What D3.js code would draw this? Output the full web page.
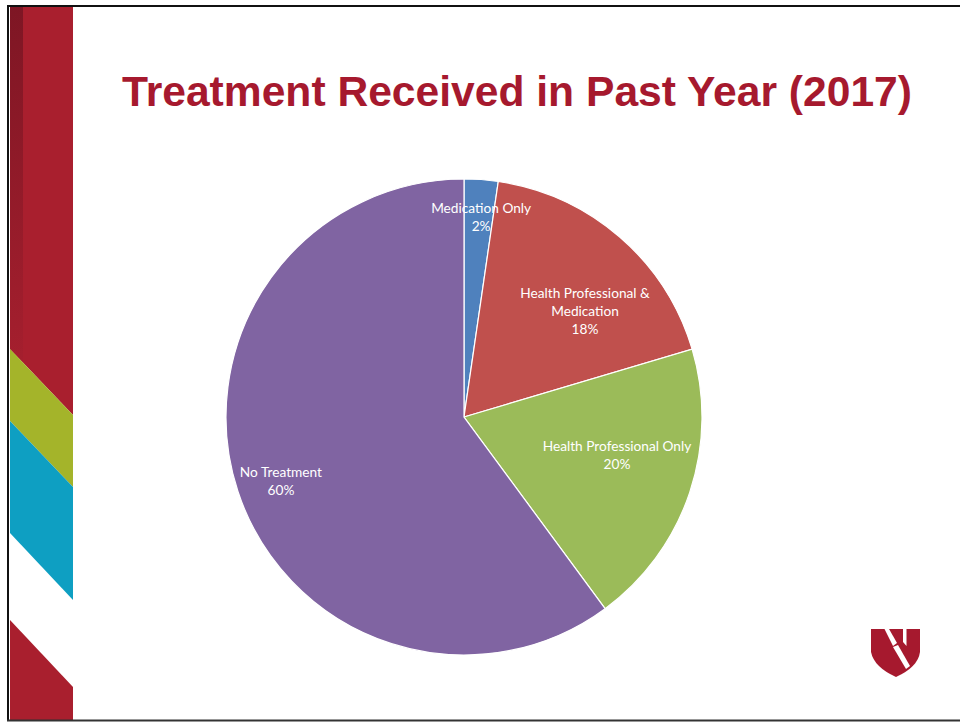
<!DOCTYPE html>
<html>
<head>
<meta charset="utf-8">
<script src="https://cdn.jsdelivr.net/npm/d3@7"></script>
<style>
html,body{margin:0;padding:0;background:#fff;}
svg{display:block;}
</style>
</head>
<body>
<script>
const titleText = "Treatment Received in Past Year (2017)";
const categories = ["Medication Only", "Health Professional & Medication", "Health Professional Only", "No Treatment"];
const labelLines = [["Medication Only"], ["Health Professional &", "Medication"], ["Health Professional Only"], ["No Treatment"]];
const values = [2.3, 18.1, 19.5, 60.1];
const percentLabels = ["2%", "18%", "20%", "60%"];
const colors = ["#4F81BD", "#C0504D", "#9BBB59", "#8064A2"];

const W = 960, H = 723;
const svg = d3.select("body").append("svg").attr("width", W).attr("height", H);

svg.append("rect").attr("x", 0).attr("y", 0).attr("width", W).attr("height", H).attr("fill", "#fff");

// left decorative strip
const defs = svg.append("defs");
const g1 = defs.append("linearGradient").attr("id", "dark").attr("x1", 0).attr("y1", 0).attr("x2", 0).attr("y2", 1);
g1.append("stop").attr("offset", "0%").attr("stop-color", "#7E1624");
g1.append("stop").attr("offset", "100%").attr("stop-color", "#A51F2E");

const strip = svg.append("g");
strip.append("polygon").attr("points", "10,6 73,6 73,415 10,349").attr("fill", "#A91F2E");
strip.append("polygon").attr("points", "10,6 23,6 23,362 10,349").attr("fill", "url(#dark)");
strip.append("polygon").attr("points", "10,349 73,415 73,487 10,421").attr("fill", "#A4B42A");
strip.append("polygon").attr("points", "10,421 73,487 73,600 10,533").attr("fill", "#0E9FC2");
strip.append("polygon").attr("points", "10,620 73,687 73,720 10,720").attr("fill", "#A91F2E");

// border lines
svg.append("line").attr("x1", 7).attr("x2", W).attr("y1", 6).attr("y2", 6).attr("stroke", "#111").attr("stroke-width", 2);
svg.append("line").attr("x1", 8).attr("x2", 8).attr("y1", 5).attr("y2", 721).attr("stroke", "#111").attr("stroke-width", 2);
svg.append("line").attr("x1", 7).attr("x2", W).attr("y1", 720.5).attr("y2", 720.5).attr("stroke", "#333").attr("stroke-width", 2);

// title
svg.append("text")
  .attr("x", 517).attr("y", 106)
  .attr("text-anchor", "middle")
  .attr("font-family", "'Liberation Sans', Arial, sans-serif")
  .attr("font-weight", "bold")
  .attr("font-size", 42.6)
  .attr("fill", "#A6192E")
  .text(titleText);

// pie
const cx = 464, cy = 417, r = 238;
const pie = d3.pie().sort(null).value(d => d)(values);
const arc = d3.arc().innerRadius(0).outerRadius(r);
const pg = svg.append("g").attr("transform", `translate(${cx},${cy})`);
pg.selectAll("path").data(pie).join("path")
  .attr("d", arc)
  .attr("fill", (d, i) => colors[i])
  .attr("stroke", "#fff")
  .attr("stroke-width", 1.2);

// label placement: [radius fraction, angle in degrees clockwise from top]
const labelPlace = [[0.842, 4.9], [0.676, 48.8], [0.662, 103.8], [0.815, 250.7]];
const lineH = 18;
pie.forEach((d, i) => {
  const [fr, deg] = labelPlace[i];
  const [x, y] = d3.pointRadial(deg * Math.PI / 180, r * fr);
  const lines = labelLines[i].concat([percentLabels[i]]);
  const t = pg.append("text")
    .attr("text-anchor", "middle")
    .attr("font-family", "Lato, 'Open Sans', sans-serif")
    .attr("font-size", 13.7)
    .attr("fill", "#fff");
  const y0 = y - (lines.length - 1) * lineH / 2 + 5;
  lines.forEach((ln, k) => {
    t.append("tspan").attr("x", x).attr("y", y0 + k * lineH).text(ln);
  });
});

// logo
const logo = svg.append("g");
logo.append("path").attr("d", "M871,629 L920,629 L920,652 Q918,667 896,677 Q874,667 871,652 Z").attr("fill", "#A6192E");
logo.append("polygon").attr("points", "884,628 888.5,628 897,643 893,646").attr("fill", "#fff");
logo.append("polygon").attr("points", "903,628 906.5,628 906.5,646 903,642").attr("fill", "#fff");
logo.append("polygon").attr("points", "893,647 898,645 910,666 906,669").attr("fill", "#fff");
</script>
</body>
</html>
